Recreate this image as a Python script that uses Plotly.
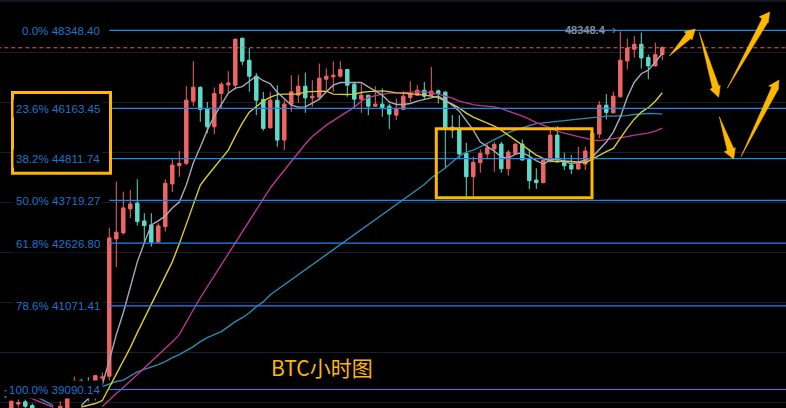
import math
import plotly.graph_objs as go

# hourly BTC candles, prices
opens = [38500, 38629, 38754, 38805, 38720, 38520, 38560, 38530, 38600, 38620,
         39262, 39297, 39204, 39280, 39360, 39397, 42734, 42886, 43498, 43645,
         43190, 43089, 42658, 43046, 44145, 44625, 44688, 46363, 46740, 46144,
         45664, 46575, 46811, 46803, 48121, 47499, 47053, 46409, 45637, 46390,
         45307, 46281, 46528, 46775, 46453, 46472, 46969, 47034, 47053, 47239,
         46830, 46418, 46528, 46226, 46281, 46226, 45981, 46136, 46464, 46528,
         46665, 46528, 46646, 46610, 45656, 45594, 44953, 44336, 44704, 44934,
         45067, 45200, 44545, 44953, 45200, 44793, 44249, 44179, 44757, 45441,
         44714, 44643, 44537, 44669, 44793, 45468, 46253, 46044, 46482, 47479,
         47808, 47951, 47575, 47340, 47659]
closes = [38540, 38819, 38789, 38704, 38629, 38560, 38530, 38570, 38704, 38934,
          39280, 39280, 38973, 39413, 39378, 42760, 42904, 43524, 43627, 43173,
          43072, 42651, 43063, 44163, 44643, 44688, 46390, 46748, 46136, 45664,
          46575, 46830, 46866, 48092, 47471, 47053, 46390, 45621, 46390, 45307,
          46281, 46619, 46775, 46453, 46500, 46996, 47053, 47080, 47239, 46803,
          46418, 46528, 46226, 46281, 46191, 46008, 46163, 46500, 46575, 46665,
          46500, 46638, 46575, 45629, 45575, 44934, 44336, 44714, 44953, 45102,
          45192, 44545, 44987, 45200, 44775, 44231, 44179, 44775, 45441, 44775,
          44625, 44537, 44688, 45014, 45487, 46253, 46055, 46500, 47499, 47845,
          47951, 47564, 47340, 47659, 47857]
highs = [38580, 38835, 38858, 38858, 38766, 38620, 38610, 38630, 38819, 38950,
         39390, 39343, 39374, 39413, 39483, 43012, 44205, 43945, 43989, 44267,
         43388, 43388, 43131, 44267, 44801, 45014, 46775, 47471, 46775, 46343,
         46740, 46894, 47191, 48121, 48141, 47845, 47144, 46619, 46619, 46803,
         46390, 47080, 47080, 47155, 46941, 47407, 47267, 47471, 47471, 47239,
         46894, 46849, 46528, 46775, 46712, 46300, 46436, 46638, 46913, 46803,
         46894, 47311, 46684, 46638, 45981, 45981, 45235, 44862, 45059, 45192,
         45262, 45262, 45040, 45219, 45326, 45059, 44556, 44820, 45594, 45683,
         44969, 44908, 45128, 45128, 45529, 46363, 46556, 46619, 48320, 48112,
         48186, 48283, 47659, 47999, 47893]
lows = [38450, 38600, 38675, 38629, 38600, 38480, 38490, 38500, 38560, 38580,
        38881, 39250, 38819, 38835, 39280, 39304, 42026, 42843, 43260, 43072,
        42634, 42540, 42634, 42919, 43937, 44336, 44643, 46226, 45799, 45495,
        45468, 46172, 46575, 46684, 47360, 46619, 45981, 45556, 45621, 45128,
        45040, 46071, 46316, 46044, 46207, 46390, 46665, 46619, 47016, 46482,
        46191, 46044, 45981, 46207, 45936, 45602, 45845, 46117, 46343, 46514,
        46390, 46514, 46300, 44564, 45360, 44820, 43748, 43815, 44440, 44793,
        44466, 44440, 44361, 44908, 44762, 44007, 44015, 44165, 44704, 44704,
        44511, 44407, 44524, 44511, 44780, 45360, 45864, 46028, 46468, 47239,
        47575, 47267, 46969, 47326, 47499]
candle_x = list(range(len(opens)))

# moving averages, None where the line is off the picture
ma_gray = [None] * 11 + [
    38720, 38881, 39019, 39204, 39764, 40379, 40907, 41564, 42157, 42633,
    43089, 43190, 43318, 43524, 43678, 44119, 44695, 45120, 45575, 45954,
    46281, 46583, 46720, 46762, 46913, 47053, 46927, 46844, 46610, 46418,
    46253, 46199, 46207, 46308, 46418, 46619, 46803, 46877, 46877, 46877,
    46877, 46756, 46646, 46528, 46343, 46272, 46272, 46300, 46363, 46409,
    46464, 46500, 46390, 46253, 46090, 45845, 45575, 45253, 45128, 45014,
    44854, 44820, 44934, 44969, 44881, 44762, 44669, 44775, 44793, 44749,
    44669, 44722, 44775, 44854, 45067, 45253, 45521, 45926, 46472, 46885,
    47122, 47219, 47451, 47696]
ma_yellow = [None] * 11 + [
    38687, 38720, 38766, 38835, 39134, 39436, 39740, 40071, 40427, 40762,
    41100, 41466, 41811, 42157, 42608, 43114, 43627, 44119, 44354, 44590,
    44828, 45040, 45414, 45764, 46063, 46226, 46363, 46472, 46541, 46555,
    46555, 46555, 46619, 46624, 46630, 46638, 46555, 46547, 46547, 46555,
    46602, 46624, 46638, 46646, 46624, 46591, 46583, 46569, 46555, 46528,
    46500, 46459, 46363, 46281, 46172, 46036, 45926, 45845, 45764, 45683,
    45575, 45441, 45307, 45186, 45040, 44908, 44820, 44749, 44730, 44749,
    44735, 44722, 44704, 44801, 44908, 45000, 45085, 45360, 45629, 45872,
    46063, 46185, 46363, 46596]
ma_magenta = [39065, 39030, 38973, 38927, 38881, 38812, 38743, 38681] + [None] * 6 + [
    38697, 38858, 38996, 39134, 39297, 39436, 39588, 39740, 39882, 40047,
    40212, 40379, 40690, 40979, 41271, 41540, 41811, 42083, 42332, 42608,
    42886, 43165, 43446, 43730, 44041, 44275, 44511, 44749, 44987, 45200,
    45401, 45562, 45710, 45831, 45954, 46090, 46199, 46363, 46459, 46514,
    46555, 46583, 46591, 46605, 46610, 46619, 46619, 46597, 46555, 46500,
    46445, 46363, 46308, 46267, 46240, 46226, 46207, 46158, 46090, 46036,
    45954, 45872, 45778, 45710, 45629, 45548, 45495, 45441, 45401, 45360,
    45307, 45294, 45320, 45334, 45360, 45401, 45441, 45468, 45495, 45548,
    45629]
ma_teal = [38916, 38939, 38950, 38957, 38950, 38892, 38812, 38720] + [None] * 6 + [
    39157, 39215, 39274, 39308, 39413, 39501, 39558, 39611, 39670, 39740,
    39834, 39905, 39999, 40094, 40212, 40308, 40379, 40451, 40570, 40690,
    40786, 40907, 41052, 41173, 41344, 41466, 41589, 41712, 41835, 41959,
    42083, 42207, 42332, 42457, 42583, 42709, 42835, 42962, 43089, 43216,
    43344, 43472, 43601, 43730, 43859, 43989, 44131, 44301, 44432, 44564,
    44722, 44881, 44987, 45040, 45128, 45213, 45320, 45414, 45508, 45575,
    45643, 45697, 45751, 45772, 45791, 45805, 45832, 45859, 45881, 45899,
    45918, 45926, 45954, 45954, 45954, 45968, 46000, 46022, 46028, 46022,
    46008]

fib_levels = ['0.0%', '23.6%', '38.2%', '50.0%', '61.8%', '78.6%', '100.0%']
fib_prices = [48348.40, 46163.45, 44811.74, 43719.27, 42626.80, 41071.41, 39090.14]
last_price = 47851
grid_prices = [47715, 46326, 44977, 43668, 42397, 41162, 39964, 38800]

W, H = 786, 408
RED = '#EF6464'
GREEN = '#5CDBC8'
GOLD = '#FFB800'

data = [go.Candlestick(
    x=candle_x, open=opens, high=highs, low=lows, close=closes,
    whiskerwidth=0,
    increasing=dict(line=dict(color=RED, width=1), fillcolor=RED),
    decreasing=dict(line=dict(color=GREEN, width=1), fillcolor=GREEN),
    hoverinfo='skip'
)]

for series, color in [(ma_teal, '#2A8DB0'), (ma_magenta, '#BC3594'),
                      (ma_yellow, '#D9CC2B'), (ma_gray, '#A6AABC')]:
    data.append(go.Scatter(x=candle_x, y=series, mode='lines',
                           line=dict(color=color, width=1.4), hoverinfo='skip'))

data.append(go.Scatter(x=[-1, 113], y=[last_price, last_price], mode='lines',
                       line=dict(color='#D9605F', width=1, dash='4px,3px'), hoverinfo='skip'))

for price in fib_prices:
    data.append(go.Scatter(x=[15, 113], y=[price, price], mode='lines',
                           line=dict(color='#1E88F5', width=1.2), hoverinfo='skip'))


def px(x):
    return x / W


def py(y):
    return 1 - y / H


def arrow(tail, tip, barb1, barb2, neck=3.4):
    # tapered arrow: thin tail, wide head
    dx, dy = tip[0] - tail[0], tip[1] - tail[1]
    n = math.hypot(dx, dy)
    ux, uy = dx / n, dy / n
    mx, my = (barb1[0] + barb2[0]) / 2, (barb1[1] + barb2[1]) / 2
    t = (mx - tail[0]) * ux + (my - tail[1]) * uy
    cx, cy = tail[0] + ux * t, tail[1] + uy * t
    side = 1 if (barb1[0] - cx) * -uy + (barb1[1] - cy) * ux > 0 else -1
    n1 = (cx - uy * neck * side, cy + ux * neck * side)
    n2 = (cx + uy * neck * side, cy - ux * neck * side)
    pts = [tail, n1, barb1, tip, barb2, n2]
    path = 'M ' + ' L '.join(f'{px(a):.5f} {py(b):.5f}' for a, b in pts) + ' Z'
    return dict(type='path', xref='paper', yref='paper', path=path,
                fillcolor=GOLD, line=dict(color=GOLD, width=0.5))


def box(x0, y0, x1, y1):
    return dict(type='rect', xref='paper', yref='paper',
                x0=px(x0), x1=px(x1), y0=py(y0), y1=py(y1),
                line=dict(color=GOLD, width=3))


shapes = [
    dict(type='rect', xref='paper', yref='paper', x0=0, x1=1, y0=py(2), y1=1,
         fillcolor='#14161F', line=dict(width=0), layer='below'),
    box(12.5, 92.5, 110.5, 173.3),
    box(436.3, 128.7, 592, 197.7),
    arrow((669.3, 56), (695.3, 29), (684.3, 31.7), (692, 40)),
    arrow((699.3, 32.3), (718.7, 97.3), (710, 89.3), (720.3, 85.3)),
    arrow((727.3, 88.3), (769.7, 12), (759.3, 16.7), (768.3, 22.7)),
    arrow((719.3, 116.7), (733.7, 159), (724.3, 151.7), (735.3, 147.7)),
    arrow((741, 156.7), (779, 80), (768.7, 86), (778.3, 90)),
]

annotations = []
for level, price in zip(fib_levels, fib_prices):
    annotations.append(dict(
        xref='paper', yref='y', x=px(103), y=math.log10(price),
        text=f'{level} {price:.2f}', showarrow=False, xanchor='right', yanchor='middle',
        font=dict(family='Liberation Sans', size=11.6, color='#1C74C8'),
        bgcolor='#000000', borderpad=2
    ))

annotations.append(dict(
    xref='paper', yref='y', x=px(563), y=math.log10(fib_prices[0]),
    text='<b>48348.4</b>', showarrow=False, xanchor='left', yanchor='middle',
    font=dict(family='Liberation Sans', size=11, color='#858A9C')
))
annotations.append(dict(
    xref='paper', yref='y', x=px(614), y=math.log10(fib_prices[0]),
    text='›', showarrow=False, xanchor='center', yanchor='middle',
    font=dict(family='Liberation Sans', size=12, color='#858A9C')
))
annotations.append(dict(
    xref='paper', yref='paper', x=px(269), y=py(367),
    text='BTC小时图', showarrow=False, xanchor='left', yanchor='middle',
    font=dict(family='Noto Sans CJK SC', size=21, color=GOLD)
))

layout = go.Layout(
    width=W, height=H,
    margin=dict(l=0, r=0, t=0, b=0),
    paper_bgcolor='#000000', plot_bgcolor='#000000',
    showlegend=False,
    boxgap=0.3,
    xaxis=dict(range=[-4.3 / 7, (W - 4.3) / 7], visible=False, rangeslider=dict(visible=False)),
    yaxis=dict(type='log', range=[math.log10(38664), math.log10(49223)],
               tickmode='array', tickvals=grid_prices, showticklabels=False, ticks='',
               showgrid=True, gridcolor='#1A1E2B', gridwidth=1, zeroline=False, showline=False),
    shapes=shapes,
    annotations=annotations
)

fig = go.Figure(data, layout)
# the default page margin would shift the chart by 8px
fig.write_html('out.html', config=dict(displayModeBar=False),
               post_script="document.body.style.margin='0';document.body.style.overflow='hidden';document.body.style.background='#000';")
